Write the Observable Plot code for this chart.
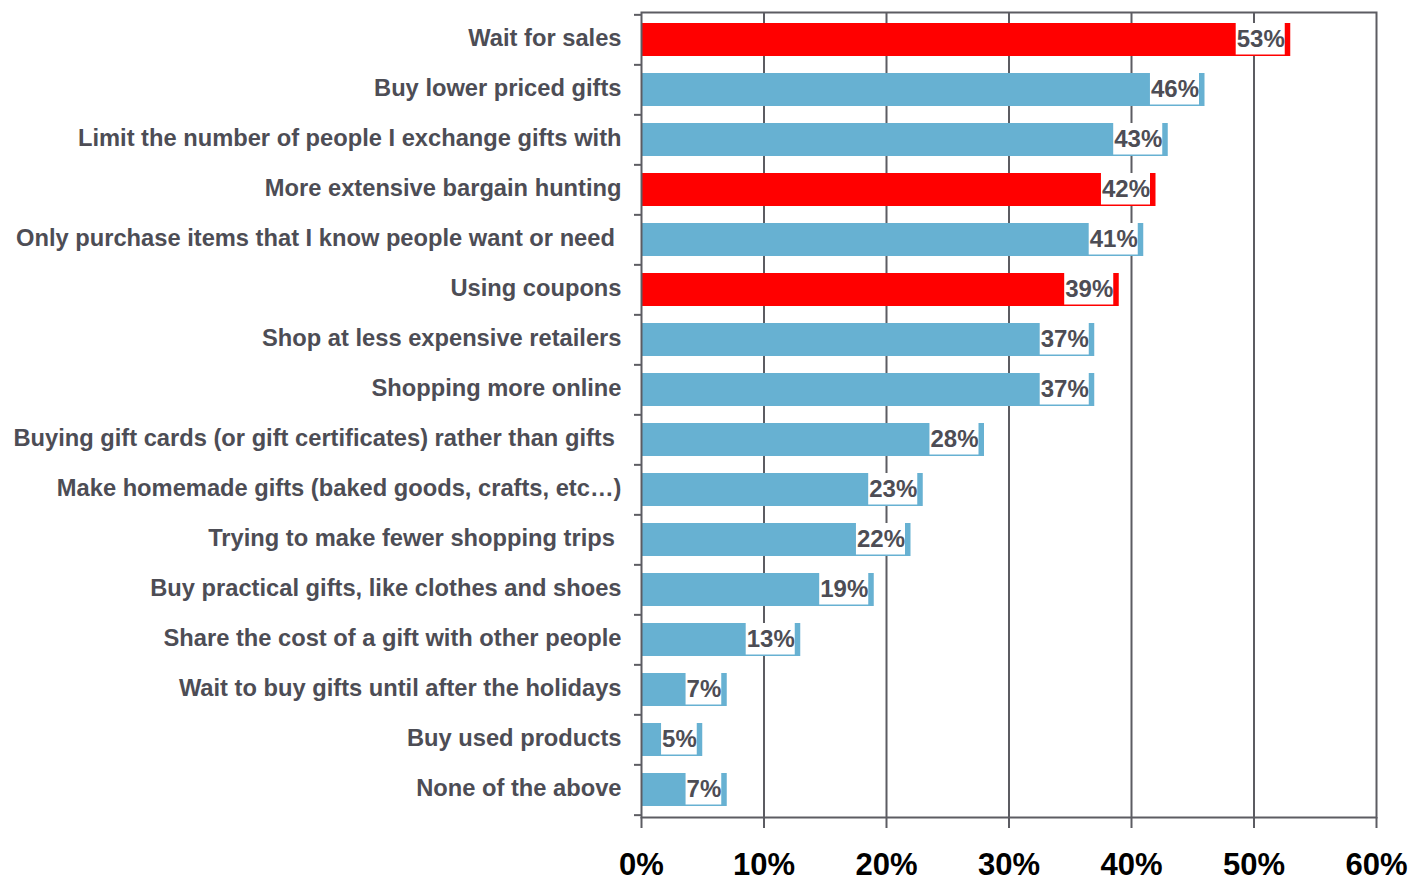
<!DOCTYPE html>
<html>
<head>
<meta charset="utf-8">
<script src="https://cdn.jsdelivr.net/npm/d3@7"></script>
<script src="https://cdn.jsdelivr.net/npm/@observablehq/plot@0.6"></script>
<style>
  html, body { margin: 0; padding: 0; background: #ffffff; }
  #chart { width: 1408px; height: 881px; }
</style>
</head>
<body>
<div id="chart"></div>
<script>
const categories = [
  "Wait for sales",
  "Buy lower priced gifts",
  "Limit the number of people I exchange gifts with",
  "More extensive bargain hunting",
  "Only purchase items that I know people want or need ",
  "Using coupons",
  "Shop at less expensive retailers",
  "Shopping more online",
  "Buying gift cards (or gift certificates) rather than gifts ",
  "Make homemade gifts (baked goods, crafts, etc\u2026)",
  "Trying to make fewer shopping trips ",
  "Buy practical gifts, like clothes and shoes",
  "Share the cost of a gift with other people",
  "Wait to buy gifts until after the holidays",
  "Buy used products",
  "None of the above"
];
const values = [53, 46, 43, 42, 41, 39, 37, 37, 28, 23, 22, 19, 13, 7, 5, 7];
const highlighted = ["Wait for sales", "More extensive bargain hunting", "Using coupons"];
const xTicks = [0, 10, 20, 30, 40, 50, 60];
const innerGrid = [10, 20, 30, 40, 50];

const data = categories.map((c, i) => ({
  category: c,
  value: values[i],
  group: highlighted.includes(c) ? "highlight" : "base"
}));

const W = 1408, H = 881, mT = 12, mB = 64, mL = 641, mR = 32;
const step = (H - mT - mB) / categories.length;
const axisGray = "#5c5c62";
const textGray = "#4d4d55";

const plot = Plot.plot({
  width: W,
  height: H,
  marginLeft: mL,
  marginRight: mR,
  marginTop: mT,
  marginBottom: mB,
  style: { fontFamily: "'Liberation Sans', Arial, sans-serif", background: "#ffffff", overflow: "visible" },
  x: { domain: [0, 60], label: null },
  y: { domain: categories, paddingInner: 0.34, paddingOuter: 0.17, label: null },
  color: { domain: ["base", "highlight"], range: ["#67b1d2", "#ff0000"] },
  marks: [
    Plot.gridX(innerGrid, { stroke: axisGray, strokeOpacity: 1, strokeWidth: 2 }),
    Plot.barX(data, { x: "value", y: "category", fill: "group", insetLeft: 1 }),
    Plot.text(data, {
      x: "value", y: "category", text: d => d.value + "%",
      textAnchor: "end", dx: -6, dy: -1, fontSize: 24, fontWeight: "bold", fill: textGray
    }),
    Plot.frame({ stroke: axisGray, strokeWidth: 2 }),
    Plot.axisY({ tickSize: 0, tickPadding: 20, dy: -2, fontSize: 23.7, fontWeight: "bold", fill: textGray,
                 label: null, tickFormat: d => d.replace(/ $/, "\u00a0") }),
    Plot.axisY({ tickSize: 7, text: null, label: null, dy: -step / 2, stroke: axisGray, strokeWidth: 2 }),
    Plot.axisY([categories[categories.length - 1]], { tickSize: 7, text: null, label: null, dy: step / 2, stroke: axisGray, strokeWidth: 2 }),
    Plot.axisX(xTicks, { tickSize: 11, tickPadding: 24, fontSize: 31, fontWeight: "bold", fill: "#000000",
                         stroke: axisGray, strokeWidth: 2, label: null, tickFormat: d => d + "%" })
  ]
});

document.getElementById("chart").appendChild(plot);

// white boxes behind the value labels
const yScale = plot.scale("y");
const bw = yScale.bandwidth;
const groups = Array.from(plot.querySelectorAll("g"));
const g = groups.find(el => {
  const ts = Array.from(el.children).filter(c => c.tagName.toLowerCase() === "text");
  return ts.length === categories.length && ts.every(t => /^\d+%$/.test(t.textContent));
});
if (g) {
  const texts = Array.from(g.children).filter(c => c.tagName.toLowerCase() === "text");
  const gm = g.getCTM();
  const sm = plot.getCTM ? plot.getCTM() : null;
  texts.forEach((t, i) => {
    const bb = t.getBBox();
    const m = t.getCTM();
    const offX = m.e - gm.e;
    const top = yScale.apply(data[i].category) - (gm.f - (sm ? sm.f : 0));
    const rect = document.createElementNS("http://www.w3.org/2000/svg", "rect");
    rect.setAttribute("x", bb.x + offX - 1);
    rect.setAttribute("width", bb.width + 1);
    rect.setAttribute("y", top);
    rect.setAttribute("height", bw - 1.5);
    rect.setAttribute("fill", "#ffffff");
    rect.setAttribute("stroke", "none");
    g.insertBefore(rect, t);
  });
}
</script>
</body>
</html>
